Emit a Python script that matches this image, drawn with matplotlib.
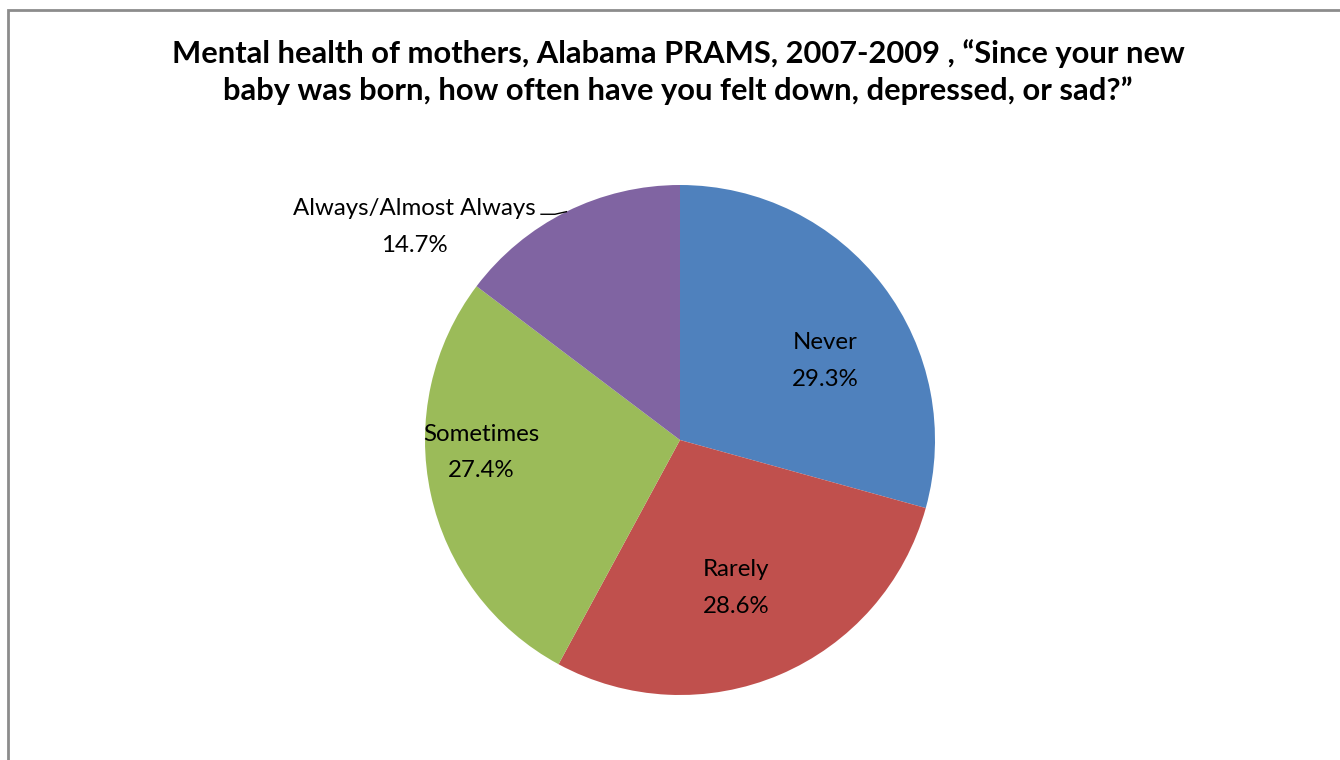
import matplotlib.pyplot as plt
import numpy as np
from matplotlib.patches import Rectangle

categories = ['Never', 'Rarely', 'Sometimes', 'Always/Almost Always']
percents = [29.3, 28.6, 27.4, 14.7]
colors = ['#4F81BD', '#C0504D', '#9BBB59', '#8064A2']

plt.rcParams['font.family'] = ['Lato', 'DejaVu Sans']

fig = plt.figure(figsize=(13.4, 7.6), dpi=100)
W, H = 1340, 760

# chart frame (runs off the right and bottom edges)
fig.patches.append(Rectangle((8 / W, -0.05), 1.1, (760 - 10) / H + 0.05,
                             transform=fig.transFigure, fill=False,
                             edgecolor='#8c8c8c', linewidth=2))

fig.text(678 / W, 1 - 72 / H,
         'Mental health of mothers, Alabama PRAMS, 2007-2009 , \u201cSince your new\n'
         'baby was born, how often have you felt down, depressed, or sad?\u201d',
         ha='center', va='center', fontsize=22.2, fontweight='bold',
         linespacing=1.33)

cx, cy, r = 680, 440, 255
ax = fig.add_axes([(cx - r) / W, (H - cy - r) / H, 2 * r / W, 2 * r / H])
wedges, _ = ax.pie(percents, colors=colors, startangle=90, counterclock=False,
                   radius=1.0, wedgeprops=dict(linewidth=0))
ax.set_xlim(-1, 1)
ax.set_ylim(-1, 1)
ax.set_aspect('equal')
ax.axis('off')

# label positions inside the slices, the last one sits outside with a leader
label_pos = [(0.57, 0.31), (0.22, -0.58), (-0.78, -0.05), (-1.04, 0.835)]
for w, name, pct, (tx, ty) in zip(wedges, categories, percents, label_pos):
    ax.text(tx, ty, f'{name}\n{pct:.1f}%', ha='center', va='center',
            fontsize=17.3, linespacing=1.9, clip_on=False)

w = wedges[3]
mid = np.deg2rad((w.theta1 + w.theta2) / 2)
ex, ey = np.cos(mid), np.sin(mid)
ax.plot([ex, ex - 0.045, -0.545], [ey, ey - 0.01, ey - 0.01], color='black',
        linewidth=1, clip_on=False)

fig.savefig('out.png', dpi=100)
